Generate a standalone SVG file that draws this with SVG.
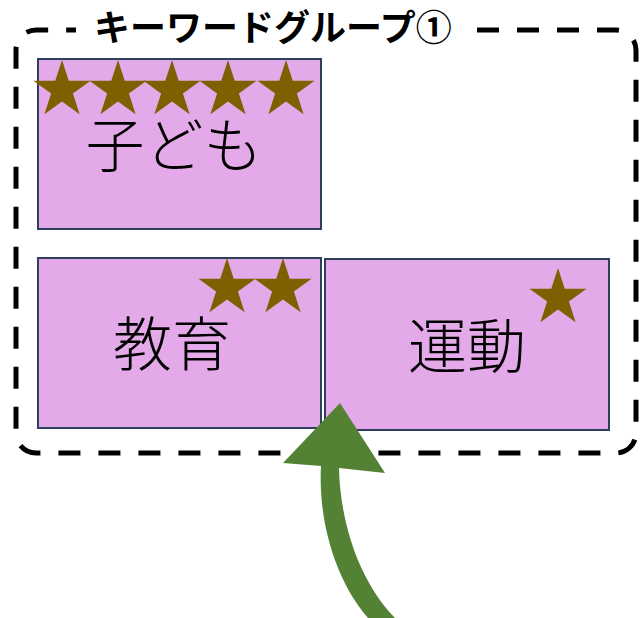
<svg xmlns="http://www.w3.org/2000/svg" width="644" height="618" viewBox="0 0 644 618">
<style>
.box{fill:#E4A9E8;stroke:#2F3F60;stroke-width:2}
.lbl{font-family:"Noto Sans CJK JP","Noto Sans",sans-serif;font-weight:300;font-size:59px;fill:#000;text-anchor:middle}
.ttl{font-family:"Noto Sans CJK JP","Noto Sans",sans-serif;font-weight:700;font-size:36px;fill:#000}
.star{fill:#7F6000}
</style>
<defs>
<path id="star" d="M0,-30 L6.74,-9.27 L28.53,-9.27 L10.9,3.54 L17.63,24.27 L0,11.46 L-17.63,24.27 L-10.9,3.54 L-28.53,-9.27 L-6.74,-9.27 Z"/>
</defs>
<rect width="644" height="618" fill="#fff"/>
<g id="group1">
<path d="M477,30 H616 A20,20 0 0 1 636,50 V433 A20,20 0 0 1 616,453 H36 A20,20 0 0 1 16,433 V50 A20,20 0 0 1 36,30 H76" fill="none" stroke="#000" stroke-width="5" stroke-dasharray="22 18"/>
<text class="ttl" x="94" y="41">キーワードグループ①</text>
</g>
<g id="node-kodomo">
<rect class="box" x="38" y="59" width="283" height="170"/>
<text class="lbl" x="174" y="167">子ども</text>
<use href="#star" class="star" x="62" y="90"/>
<use href="#star" class="star" x="118" y="90"/>
<use href="#star" class="star" x="172" y="90"/>
<use href="#star" class="star" x="228" y="90"/>
<use href="#star" class="star" x="286" y="90"/>
</g>
<g id="node-kyouiku">
<rect class="box" x="38" y="258" width="283" height="170"/>
<text class="lbl" x="172" y="366">教育</text>
<use href="#star" class="star" x="227" y="288"/>
<use href="#star" class="star" x="283" y="288"/>
</g>
<g id="node-undou">
<rect class="box" x="325" y="259" width="284" height="171"/>
<text class="lbl" x="467" y="368">運動</text>
<use href="#star" class="star" x="558" y="298"/>
</g>
<g id="connectors">
<path d="M340,403 L385,473 L339,468 C340,520 358,580 395,618 L368,618 C335,580 318,520 321,466 L283,463 Z" fill="#548235"/>
</g>
</svg>
